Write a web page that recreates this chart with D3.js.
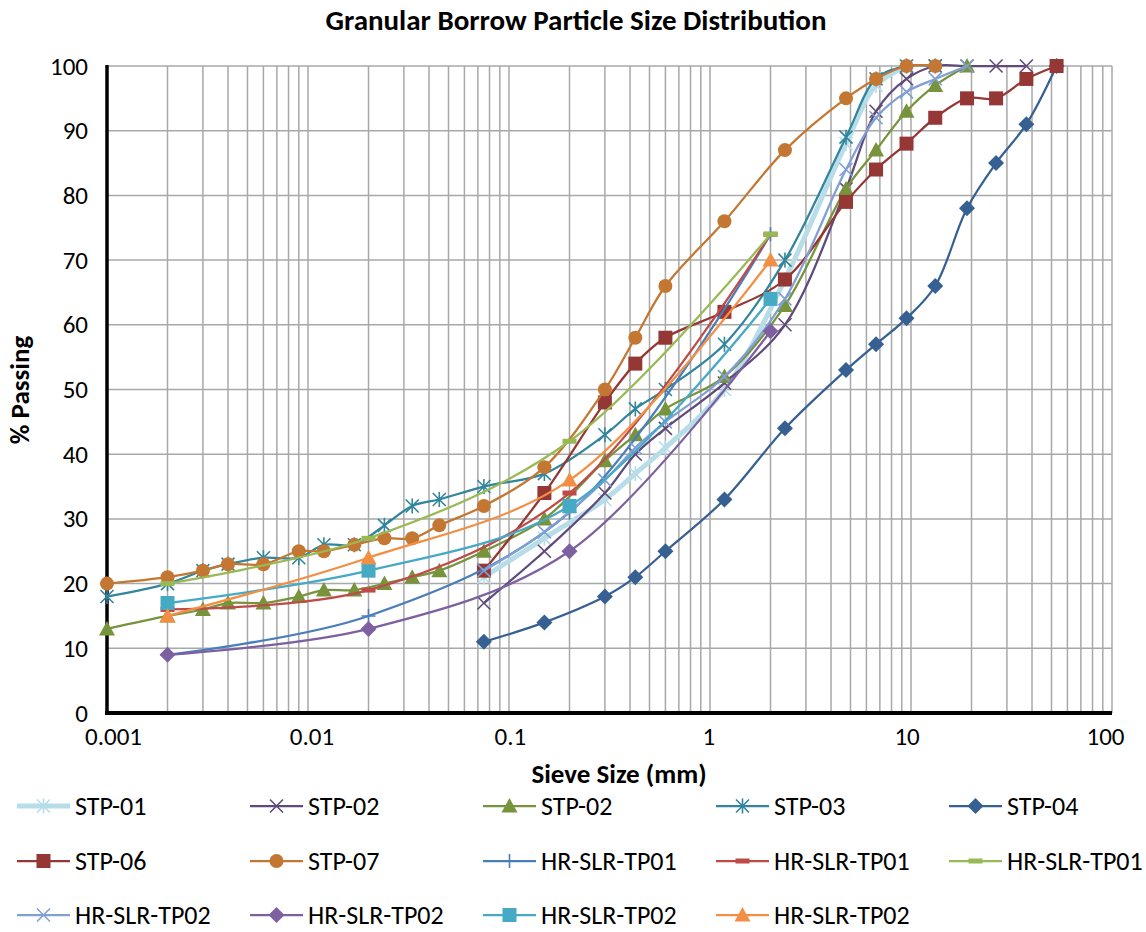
<!DOCTYPE html>
<html><head><meta charset="utf-8">
<script src="https://cdn.jsdelivr.net/npm/d3@7"></script>
<style>
html,body{margin:0;padding:0;background:#fff;}
text{font-family:Carlito,Calibri,"Liberation Sans",Arial,sans-serif;fill:#000;}
</style></head>
<body>
<svg id="chart" width="1146" height="932"></svg>
<script>
// ---------- DATA ----------
const xTickValues = [0.001, 0.01, 0.1, 1, 10, 100];
const xTickLabels = ["0.001", "0.01", "0.1", "1", "10", "100"];
const yTickValues = [0, 10, 20, 30, 40, 50, 60, 70, 80, 90, 100];

const seriesNames = ["STP-01","STP-02","STP-02","STP-03","STP-04","STP-06","STP-07",
  "HR-SLR-TP01","HR-SLR-TP01","HR-SLR-TP01","HR-SLR-TP02","HR-SLR-TP02","HR-SLR-TP02","HR-SLR-TP02"];

const stp01Size = [0.075,0.15,0.3,0.425,0.6,1.18,2.36,4.75,6.7,9.5];
const stp01Pass = [21,27,33,37,41,50,67,88,97,100];

const stp02xSize = [0.075,0.15,0.3,0.425,0.6,1.18,2.36,4.75,6.7,9.5,13.2,19,26.5,37.5];
const stp02xPass = [17,25,34,40,44,51,60,81,93,98,100,100,100,100];

const stp02tSize = [0.001,0.002,0.003,0.004,0.006,0.009,0.012,0.017,0.024,0.033,0.045,0.075,0.15,0.3,0.425,0.6,1.18,2.36,4.75,6.7,9.5,13.2,19];
const stp02tPass = [13,15,16,17,17,18,19,19,20,21,22,25,30,39,43,47,52,63,81,87,93,97,100];

const stp03Size = [0.001,0.002,0.003,0.004,0.006,0.009,0.012,0.017,0.024,0.033,0.045,0.075,0.15,0.3,0.425,0.6,1.18,2.36,4.75,6.7,9.5,13.2];
const stp03Pass = [18,20,22,23,24,24,26,26,29,32,33,35,37,43,47,50,57,70,89,98,100,100];

const stp04Size = [0.075,0.15,0.3,0.425,0.6,1.18,2.36,4.75,6.7,9.5,13.2,19,26.5,37.5,53];
const stp04Pass = [11,14,18,21,25,33,44,53,57,61,66,78,85,91,100];

const stp06Size = [0.075,0.15,0.3,0.425,0.6,1.18,2.36,4.75,6.7,9.5,13.2,19,26.5,37.5,53];
const stp06Pass = [22,34,48,54,58,62,67,79,84,88,92,95,95,98,100];

const stp07Size = [0.001,0.002,0.003,0.004,0.006,0.009,0.012,0.017,0.024,0.033,0.045,0.075,0.15,0.3,0.425,0.6,1.18,2.36,4.75,6.7,9.5,13.2];
const stp07Pass = [20,21,22,23,23,25,25,26,27,27,29,32,38,50,58,66,76,87,95,98,100,100];

const hrSize = [0.002, 0.02, 0.2, 2];
const hrTp01aPass = [9,15,31,74];
const hrTp01bPass = [16,19,34,74];
const hrTp01cPass = [20,27,42,74];

const hrTp02xSize = [0.075,0.15,0.3,0.425,0.6,1.18,2.36,4.75,6.7,9.5,13.2,19];
const hrTp02xPass = [22,28,36,41,45,52,64,84,92,96,98,100];
const hrTp02dPass = [9,13,25,59];
const hrTp02sPass = [17,22,32,64];
const hrTp02tPass = [15,24,36,70];

// ---------- STYLE TABLE ----------
const series = [
  {name:seriesNames[0], sz:stp01Size, v:stp01Pass, c:"#b7dde8", mc:"#b7dde8", w:5, m:"star"},
  {name:seriesNames[1], sz:stp02xSize, v:stp02xPass, c:"#604a7b", mc:"#604a7b", w:2.25, m:"x"},
  {name:seriesNames[2], sz:stp02tSize, v:stp02tPass, c:"#77933c", mc:"#77933c", w:2.25, m:"tri"},
  {name:seriesNames[3], sz:stp03Size, v:stp03Pass, c:"#31859c", mc:"#31859c", w:2.25, m:"star"},
  {name:seriesNames[4], sz:stp04Size, v:stp04Pass, c:"#376092", mc:"#376092", w:2.25, m:"diamond"},
  {name:seriesNames[5], sz:stp06Size, v:stp06Pass, c:"#953735", mc:"#953735", w:2.25, m:"square"},
  {name:seriesNames[6], sz:stp07Size, v:stp07Pass, c:"#c47732", mc:"#c47732", w:2.25, m:"circle"},
  {name:seriesNames[7], sz:hrSize, v:hrTp01aPass, c:"#4a7ebb", mc:"#4a7ebb", w:2.25, m:"plus"},
  {name:seriesNames[8], sz:hrSize, v:hrTp01bPass, c:"#be4b48", mc:"#be4b48", w:2.25, m:"dash"},
  {name:seriesNames[9], sz:hrSize, v:hrTp01cPass, c:"#98b954", mc:"#98b954", w:2.25, m:"dash"},
  {name:seriesNames[10], sz:hrTp02xSize, v:hrTp02xPass, c:"#7f9fd5", mc:"#7f9fd5", w:2.25, m:"x"},
  {name:seriesNames[11], sz:hrSize, v:hrTp02dPass, c:"#7d60a0", mc:"#7d60a0", w:2.25, m:"diamond"},
  {name:seriesNames[12], sz:hrSize, v:hrTp02sPass, c:"#46aac5", mc:"#46aac5", w:2.25, m:"square"},
  {name:seriesNames[13], sz:hrSize, v:hrTp02tPass, c:"#f38f44", mc:"#f38f44", w:2.25, m:"tri"}
];

// ---------- SCALES ----------
const svg = d3.select("#chart");
const L = 107, R = 1112, T = 66, B = 713;
const x = d3.scaleLog().domain([0.001, 100]).range([L, R]);
const y = d3.scaleLinear().domain([0, 100]).range([B, T]);

// grid
const minorVals = [];
for (let k = -3; k <= 1; k++) for (let i = 1; i <= 9; i++) minorVals.push(i * Math.pow(10, k));
minorVals.push(100);
const grid = svg.append("g");
grid.selectAll("line.v").data(minorVals).join("line")
  .attr("x1", d => x(d)).attr("x2", d => x(d)).attr("y1", T).attr("y2", B)
  .attr("stroke", "#a8a8a8").attr("stroke-width", 1.5);
grid.selectAll("line.h").data(yTickValues).join("line")
  .attr("x1", L).attr("x2", R).attr("y1", d => y(d)).attr("y2", d => y(d))
  .attr("stroke", "#a8a8a8").attr("stroke-width", 1.5);

// axes
const xAxis = d3.axisBottom(x).tickValues(xTickValues).tickFormat((d, i) => xTickLabels[i]).tickSize(0).tickPadding(24);
const yAxis = d3.axisLeft(y).tickValues(yTickValues).tickSize(0).tickPadding(19);
const gx = svg.append("g").attr("transform", `translate(0,${B})`).call(xAxis);
const gy = svg.append("g").attr("transform", `translate(${L},0)`).call(yAxis);
[gx, gy].forEach(g => {
  g.select(".domain").remove();
  g.selectAll("text").style("font-size", "25px").attr("fill", "#000");
});
// Excel spreads the category labels slightly inside the plot ends
gx.selectAll("text").attr("dx", (d, i) => 6 - i * 2.6).attr("dy", "0.3em");
svg.append("line").attr("x1", L).attr("x2", L).attr("y1", T - 1).attr("y2", B + 2).attr("stroke", "#000").attr("stroke-width", 3.5);
svg.append("line").attr("x1", L - 2).attr("x2", R).attr("y1", B).attr("y2", B).attr("stroke", "#000").attr("stroke-width", 4);

// titles
svg.append("text").attr("x", 576).attr("y", 30).attr("text-anchor", "middle")
  .style("font-size", "29px").style("font-weight", "bold").text("Granular Borrow Particle Size Distribution");
svg.append("text").attr("x", 619).attr("y", 783).attr("text-anchor", "middle")
  .style("font-size", "27px").style("font-weight", "bold").text("Sieve Size (mm)");
svg.append("text").attr("transform", "translate(29,390) rotate(-90)").attr("text-anchor", "middle")
  .style("font-size", "27px").style("font-weight", "bold").text("% Passing");

// markers
function drawMarker(g, type, color, cx, cy, scale) {
  const s = scale || 1;
  if (type === "circle") {
    g.append("circle").attr("cx", cx).attr("cy", cy).attr("r", 7 * s).attr("fill", color);
  } else if (type === "square") {
    g.append("rect").attr("x", cx - 7 * s).attr("y", cy - 7 * s).attr("width", 14 * s).attr("height", 14 * s).attr("fill", color);
  } else if (type === "diamond") {
    const r = 8 * s;
    g.append("path").attr("d", `M${cx},${cy - r}L${cx + r},${cy}L${cx},${cy + r}L${cx - r},${cy}Z`).attr("fill", color);
  } else if (type === "tri") {
    const r = 8 * s;
    g.append("path").attr("d", `M${cx},${cy - r}L${cx + r},${cy + 6.5 * s}L${cx - r},${cy + 6.5 * s}Z`).attr("fill", color);
  } else if (type === "x" || type === "star") {
    const r = 6.5 * s;
    g.append("path").attr("d", `M${cx - r},${cy - r}L${cx + r},${cy + r}M${cx - r},${cy + r}L${cx + r},${cy - r}` + (type === "star" ? `M${cx},${cy - r - 1}L${cx},${cy + r + 1}` : ""))
      .attr("stroke", color).attr("stroke-width", 1.6).attr("fill", "none");
  } else if (type === "plus") {
    const r = 7 * s;
    g.append("path").attr("d", `M${cx - r},${cy}L${cx + r},${cy}M${cx},${cy - r}L${cx},${cy + r}`)
      .attr("stroke", color).attr("stroke-width", 1.6).attr("fill", "none");
  } else if (type === "dash") {
    g.append("rect").attr("x", cx - 7 * s).attr("y", cy - 2.5 * s).attr("width", 14 * s).attr("height", 5 * s).attr("fill", color);
  }
}

// series
const line = d3.line().x(d => x(d[0])).y(d => y(d[1])).curve(d3.curveCatmullRom.alpha(0.5));
const plot = svg.append("g");
series.forEach(s => {
  const pts = s.sz.map((d, i) => [d, s.v[i]]);
  const g = plot.append("g");
  g.append("path").attr("d", line(pts)).attr("fill", "none").attr("stroke", s.c)
    .attr("stroke-width", s.w).attr("stroke-linejoin", "round").attr("stroke-linecap", "round");
  pts.forEach(p => drawMarker(g, s.m, s.mc, x(p[0]), y(p[1])));
});

// legend
const legCols = [17, 250, 483, 716, 949];
const legRows = [806, 861, 915];
const leg = svg.append("g");
series.forEach((s, i) => {
  const col = i % 5, row = Math.floor(i / 5);
  const lx = legCols[col], ly = legRows[row];
  const g = leg.append("g");
  g.append("line").attr("x1", lx).attr("x2", lx + 53).attr("y1", ly).attr("y2", ly)
    .attr("stroke", s.c).attr("stroke-width", s.w);
  drawMarker(g, s.m, s.mc, lx + 26.5, ly, 1);
  g.append("text").attr("x", lx + 58).attr("y", ly).attr("dy", "0.35em")
    .style("font-size", "26px").text(s.name);
});
</script>
</body></html>
